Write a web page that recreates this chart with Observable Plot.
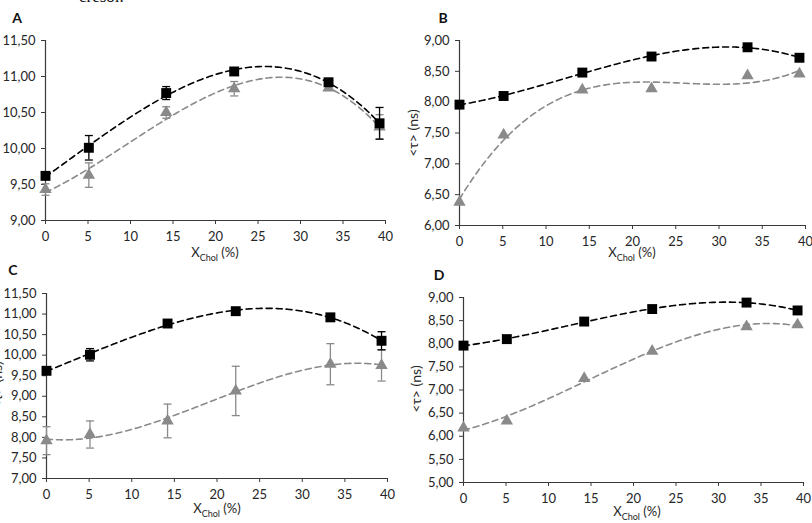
<!DOCTYPE html>
<html>
<head>
<meta charset="utf-8">
<script src="https://cdn.jsdelivr.net/npm/d3@7"></script>
<script src="https://cdn.jsdelivr.net/npm/@observablehq/plot@0.6"></script>
<style>
  html, body { margin: 0; padding: 0; background: #fff; }
  #wrap { position: relative; width: 812px; height: 523px; overflow: hidden; font-family: Lato, "Open Sans", sans-serif; }
  .panel { position: absolute; }
  #cresol { position: absolute; left: 79px; top: -13px; font-family: "Liberation Serif", "DejaVu Serif", serif; font-size: 17px; color: #111; }
</style>
</head>
<body>
<div id="wrap">
  <div id="cresol">cresol.</div>
</div>
<script>
// ---- data ----
const xChol = [0, 5.1, 14.2, 22.2, 33.3, 39.3];

const A_black = [9.62, 10.01, 10.77, 11.07, 10.92, 10.35];
const A_blackErr = [0.05, 0.17, 0.09, 0.03, 0.03, 0.22];
const A_gray = [9.43, 9.63, 10.50, 10.83, 10.84, 10.30];
const A_grayErr = [0.08, 0.17, 0.08, 0.10, 0.03, 0.17];

const B_black = [7.96, 8.10, 8.48, 8.74, 8.89, 8.72];
const B_gray = [6.38, 7.47, 8.20, 8.22, 8.43, 8.46];

const C_black = [9.62, 10.01, 10.77, 11.07, 10.92, 10.35];
const C_blackErr = [0.05, 0.15, 0.05, 0.03, 0.03, 0.22];
const C_gray = [7.92, 8.07, 8.40, 9.13, 9.78, 9.75];
const C_grayErr = [0.34, 0.33, 0.41, 0.60, 0.50, 0.38];

const D_black = [7.96, 8.10, 8.48, 8.75, 8.89, 8.72];
const D_gray = [6.18, 6.33, 7.25, 7.84, 8.37, 8.41];

const xTicks = [0, 5, 10, 15, 20, 25, 30, 35, 40];
const yTicksA = [9, 9.5, 10, 10.5, 11, 11.5];
const yTicksB = [6, 6.5, 7, 7.5, 8, 8.5, 9];
const yTicksC = [7, 7.5, 8, 8.5, 9, 9.5, 10, 10.5, 11, 11.5];
const yTicksD = [5, 5.5, 6, 6.5, 7, 7.5, 8, 8.5, 9];

const yLabel = "<τ> (ns)";

// ---- helpers ----
const fmt = v => d3.format(".2f")(v).replace(".", ",");

// least-squares cubic trendline (as the spreadsheet's polynomial trendline)
function cubicFit(xs, ys) {
  const n = 4;
  const M = Array.from({length: n}, () => Array(n + 1).fill(0));
  xs.forEach((x, k) => {
    for (let i = 0; i < n; i++) {
      for (let j = 0; j < n; j++) M[i][j] += Math.pow(x, i + j);
      M[i][n] += ys[k] * Math.pow(x, i);
    }
  });
  for (let c = 0; c < n; c++) {
    let p = c;
    for (let r = c + 1; r < n; r++) if (Math.abs(M[r][c]) > Math.abs(M[p][c])) p = r;
    [M[c], M[p]] = [M[p], M[c]];
    for (let r = 0; r < n; r++) {
      if (r === c) continue;
      const f = M[r][c] / M[c][c];
      for (let j = c; j <= n; j++) M[r][j] -= f * M[c][j];
    }
  }
  const coef = M.map((row, i) => row[n] / row[i]);
  const x0 = d3.min(xs), x1 = d3.max(xs);
  return d3.range(0, 201).map(i => {
    const x = x0 + (x1 - x0) * i / 200;
    return {x, y: coef[0] + coef[1] * x + coef[2] * x * x + coef[3] * x * x * x};
  });
}

const capSymbol = {
  draw(ctx, size) {
    const r = Math.sqrt(size / Math.PI);
    ctx.moveTo(-r, 0); ctx.lineTo(r, 0);
  }
};

const BLACK = "#000";
const GRAY = "#8a8a8a";
const AXIS = "#3a3a3a";
const TEXT = "#262626";

function series(vals, errs, color, symbol, dash) {
  const rows = xChol.map((x, i) => ({x, y: vals[i], e: errs ? errs[i] : 0}));
  const marks = [];
  if (errs) {
    marks.push(Plot.ruleX(rows, {x: "x", y1: d => d.y - d.e, y2: d => d.y + d.e, stroke: color, strokeWidth: 1.3}));
    marks.push(Plot.dot(rows, {x: "x", y: d => d.y - d.e, symbol: capSymbol, r: 4, stroke: color, strokeWidth: 1.3}));
    marks.push(Plot.dot(rows, {x: "x", y: d => d.y + d.e, symbol: capSymbol, r: 4, stroke: color, strokeWidth: 1.3}));
  }
  marks.push(Plot.line(cubicFit(xChol, vals), {x: "x", y: "y", stroke: color, strokeWidth: 1.6, strokeDasharray: dash, curve: "linear"}));
  marks.push(Plot.dot(rows, {x: "x", y: "y", symbol, r: symbol === "square" ? 5.6 : 4.6, fill: color, stroke: "none"}));
  return marks;
}

function panel(cfg) {
  const svg = Plot.plot({
    width: cfg.width, height: cfg.height,
    marginLeft: cfg.mL, marginRight: cfg.mR, marginTop: cfg.mT, marginBottom: cfg.mB,
    style: {fontFamily: "Lato, 'Open Sans', sans-serif", fontSize: "13px", color: TEXT, background: "transparent", overflow: "visible"},
    x: {domain: [0, 40]},
    y: {domain: [cfg.yTicks[0], cfg.yTicks[cfg.yTicks.length - 1]]},
    marks: [
      Plot.axisX({ticks: xTicks, tickFormat: d => d, tickSize: 4, tickPadding: 7, label: null, stroke: AXIS, fill: TEXT, fontSize: 13}),
      Plot.axisY({ticks: cfg.yTicks, tickFormat: fmt, tickSize: 4, tickPadding: 6, label: null, stroke: AXIS, fill: TEXT, fontSize: 13}),
      Plot.ruleX([0], {stroke: AXIS, strokeWidth: 1.2}),
      Plot.ruleY([cfg.yTicks[0]], {stroke: AXIS, strokeWidth: 1.2}),
      ...series(cfg.gray, cfg.grayErr, GRAY, "triangle", "6,4"),
      ...series(cfg.black, cfg.blackErr, BLACK, "square", "6,4")
    ]
  });
  const s = d3.select(svg);
  // panel letter
  s.append("text").attr("x", cfg.letterX).attr("y", cfg.letterY)
    .attr("font-family", "Lato, sans-serif").attr("font-weight", "bold").attr("font-size", 14)
    .attr("fill", "#111").text(cfg.letter);
  // x label with subscript
  const xl = s.append("text").attr("x", cfg.xlX).attr("y", cfg.xlY).attr("text-anchor", "middle")
    .attr("font-family", "Lato, sans-serif").attr("font-size", 13).attr("fill", TEXT);
  xl.append("tspan").text("X");
  xl.append("tspan").attr("font-size", 9).attr("dy", 4).text("Chol");
  xl.append("tspan").attr("dy", -4).text(" (%)");
  // y label
  if (cfg.ylX !== undefined) {
    s.append("text").attr("transform", `translate(${cfg.ylX},${cfg.ylY}) rotate(-90)`)
      .attr("text-anchor", "middle").attr("font-family", "Lato, sans-serif").attr("font-size", 14)
      .attr("fill", TEXT).text(yLabel);
  }
  const div = document.createElement("div");
  div.className = "panel";
  div.style.left = cfg.left + "px";
  div.style.top = cfg.top + "px";
  div.appendChild(svg);
  document.getElementById("wrap").appendChild(div);
}

panel({left: 0, top: 0, width: 400, height: 260, mL: 45, mR: 15, mT: 40, mB: 40,
  yTicks: yTicksA, black: A_black, blackErr: A_blackErr, gray: A_gray, grayErr: A_grayErr,
  letter: "A", letterX: 17, letterY: 23, xlX: 215, xlY: 257});

panel({left: 400, top: 0, width: 412, height: 260, mL: 59, mR: 7, mT: 40, mB: 35,
  yTicks: yTicksB, black: B_black, gray: B_gray,
  letter: "B", letterX: 43, letterY: 23, xlX: 232, xlY: 257, ylX: 18, ylY: 133});

panel({left: 0, top: 260, width: 400, height: 263, mL: 46, mR: 13, mT: 33, mB: 45,
  yTicks: yTicksC, black: C_black, blackErr: C_blackErr, gray: C_gray, grayErr: C_grayErr,
  letter: "C", letterX: 13, letterY: 15, xlX: 217, xlY: 253, ylX: 2, ylY: 125});

panel({left: 400, top: 260, width: 412, height: 263, mL: 63, mR: 9, mT: 37, mB: 41,
  yTicks: yTicksD, black: D_black, gray: D_gray,
  letter: "D", letterX: 39, letterY: 20, xlX: 237, xlY: 256, ylX: 21, ylY: 129});
</script>
</body>
</html>
